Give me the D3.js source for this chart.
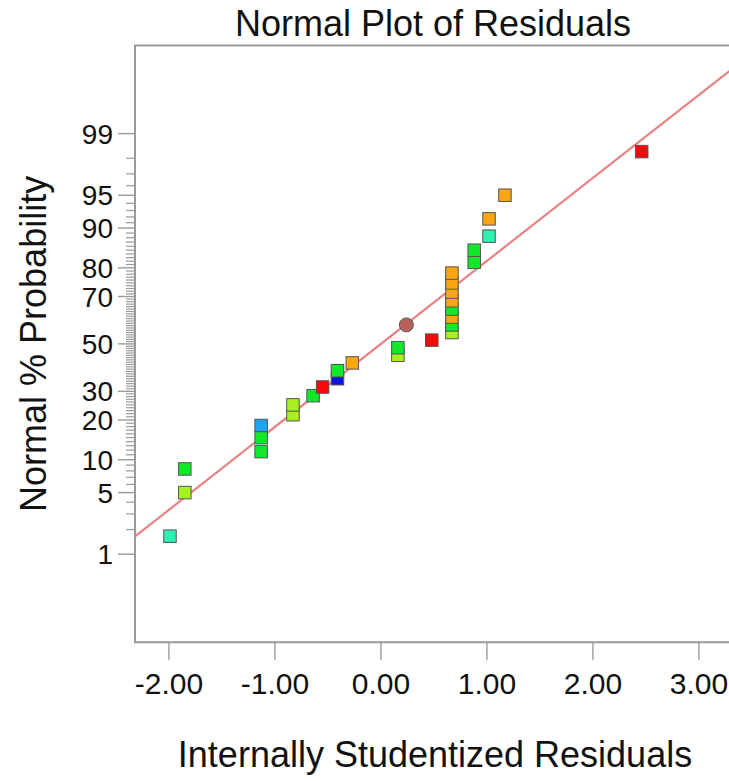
<!DOCTYPE html>
<html>
<head>
<meta charset="utf-8">
<script src="https://cdn.jsdelivr.net/npm/d3@7/dist/d3.min.js"></script>
<style>
  html, body { margin: 0; padding: 0; background: #fff; }
  svg { display: block; font-family: Arial, "Liberation Sans", sans-serif; }
</style>
</head>
<body>
<svg id="chart" width="729" height="781"></svg>
<script>
// Internally studentized residuals, ordered by rank
const residuals = [
  -1.99, -1.85, -1.85, -1.13, -1.13, -1.13, -0.83, -0.83, -0.64, -0.55,
  -0.41, -0.41, -0.27, 0.16, 0.16, 0.48, 0.67, 0.67, 0.67, 0.67,
  0.67, 0.67, 0.67, 0.67, 0.88, 0.88, 1.02, 1.02, 1.17, 2.46
];
// Normal % probability of each ranked residual
const normalPct = [
  1.67, 5.00, 8.33, 11.67, 15.00, 18.33, 21.67, 25.00, 28.33, 31.67,
  35.00, 38.33, 41.67, 45.00, 48.33, 51.67, 55.00, 58.33, 61.67, 65.00,
  68.33, 71.67, 75.00, 78.33, 81.67, 85.00, 88.33, 91.67, 95.00, 98.33
];
// Point colour (by response value)
const pointColors = [
  "#2cf2b0", "#a8f01e", "#12e82a", "#12e82a", "#12e82a", "#1ea2f2", "#a8f01e", "#a8f01e", "#12e82a", "#f50a0a",
  "#0a16e6", "#12e82a", "#faa614", "#a8f01e", "#12e82a", "#f50a0a", "#a8f01e", "#12e82a", "#faa614", "#12e82a",
  "#faa614", "#faa614", "#faa614", "#faa614", "#12e82a", "#12e82a", "#2cf2b0", "#faa614", "#faa614", "#f50a0a"
];
// Highlighted point
const markedResidual = [0.24];
const markedPct = [58.33];

// Reference line: z = slope * residual + intercept
const lineSlope = 0.918;
const lineIntercept = 0;

const xTicks = [-2, -1, 0, 1, 2, 3];
const yMajorPct = [1, 5, 10, 20, 30, 50, 70, 80, 90, 95, 99];
const yMinorPct = d3.range(2, 99).filter(v => !yMajorPct.includes(v));

// Inverse standard normal CDF (Acklam)
function probit(p) {
  const a = [-3.969683028665376e+01, 2.209460984245205e+02, -2.759285104469687e+02,
             1.383577518672690e+02, -3.066479806614716e+01, 2.506628277459239e+00];
  const b = [-5.447609879822406e+01, 1.615858368580409e+02, -1.556989798598866e+02,
             6.680131188771972e+01, -1.328068155288572e+01];
  const c = [-7.784894002430293e-03, -3.223964580411365e-01, -2.400758277161838e+00,
             -2.549671010115138e+00, 4.374664141464968e+00, 2.938163982698783e+00];
  const d = [7.784695709041462e-03, 3.224671290700398e-01, 2.445134137142996e+00,
             3.754408661907416e+00];
  const pl = 0.02425, ph = 1 - pl;
  let q, r;
  if (p < pl) {
    q = Math.sqrt(-2 * Math.log(p));
    return (((((c[0]*q+c[1])*q+c[2])*q+c[3])*q+c[4])*q+c[5]) /
           ((((d[0]*q+d[1])*q+d[2])*q+d[3])*q+1);
  } else if (p <= ph) {
    q = p - 0.5; r = q * q;
    return (((((a[0]*r+a[1])*r+a[2])*r+a[3])*r+a[4])*r+a[5])*q /
           (((((b[0]*r+b[1])*r+b[2])*r+b[3])*r+b[4])*r+1);
  } else {
    q = Math.sqrt(-2 * Math.log(1 - p));
    return -(((((c[0]*q+c[1])*q+c[2])*q+c[3])*q+c[4])*q+c[5]) /
            ((((d[0]*q+d[1])*q+d[2])*q+d[3])*q+1);
  }
}

const svg = d3.select("#chart");
const plotLeft = 135, plotTop = 45.6, plotBottom = 642.2;
const xDomain = [-2.32, 3.6];
const x = d3.scaleLinear().domain(xDomain).range([plotLeft, plotLeft + (xDomain[1] - xDomain[0]) * 106]);
const yz = d3.scaleLinear().domain([-3.3, 3.3]).range([plotBottom, plotTop]);
const yPct = pct => yz(probit(pct / 100));

const axisColor = "#9a9a9a";
const textColor = "#111";

// Title
svg.append("text")
  .attr("x", 433).attr("y", 36)
  .attr("text-anchor", "middle")
  .attr("font-size", 36)
  .attr("fill", textColor)
  .text("Normal Plot of Residuals");

// Plot frame (right side extends past the view)
const plotRight = x(xDomain[1]);
svg.append("path")
  .attr("d", `M${plotRight},${plotTop}H${plotLeft}V${plotBottom}H${plotRight}`)
  .attr("fill", "none")
  .attr("stroke", axisColor)
  .attr("stroke-width", 2);

// Y ticks on probability scale
const yAxisG = svg.append("g");
yAxisG.selectAll("line.minor").data(yMinorPct).join("line")
  .attr("class", "minor")
  .attr("x1", plotLeft - 9).attr("x2", plotLeft)
  .attr("y1", d => yPct(d)).attr("y2", d => yPct(d))
  .attr("stroke", axisColor).attr("stroke-width", 1.2);
yAxisG.selectAll("line.major").data(yMajorPct).join("line")
  .attr("class", "major")
  .attr("x1", plotLeft - 17).attr("x2", plotLeft)
  .attr("y1", d => yPct(d)).attr("y2", d => yPct(d))
  .attr("stroke", axisColor).attr("stroke-width", 1.4);
yAxisG.selectAll("text").data(yMajorPct).join("text")
  .attr("x", plotLeft - 22)
  .attr("y", d => yPct(d))
  .attr("dy", "0.36em")
  .attr("text-anchor", "end")
  .attr("font-size", 28)
  .attr("fill", textColor)
  .text(d => d);

// X ticks
const xAxisG = svg.append("g");
xAxisG.selectAll("line").data(xTicks).join("line")
  .attr("x1", d => x(d)).attr("x2", d => x(d))
  .attr("y1", plotBottom).attr("y2", plotBottom + 18)
  .attr("stroke", axisColor).attr("stroke-width", 1.4);
xAxisG.selectAll("text").data(xTicks).join("text")
  .attr("x", d => x(d))
  .attr("y", 694)
  .attr("text-anchor", "middle")
  .attr("font-size", 30)
  .attr("fill", textColor)
  .text(d => d3.format(".2f")(d).replace("−", "-"));

// Axis titles
svg.append("text")
  .attr("x", 435).attr("y", 767)
  .attr("text-anchor", "middle")
  .attr("font-size", 36)
  .attr("fill", textColor)
  .text("Internally Studentized Residuals");
svg.append("text")
  .attr("transform", `translate(46,${yz(0)}) rotate(-90)`)
  .attr("text-anchor", "middle")
  .attr("font-size", 36)
  .attr("fill", textColor)
  .text("Normal % Probability");

// Clip to plot area
svg.append("clipPath").attr("id", "plotClip")
  .append("rect").attr("x", plotLeft).attr("y", plotTop)
  .attr("width", plotRight - plotLeft).attr("height", plotBottom - plotTop);
const plot = svg.append("g").attr("clip-path", "url(#plotClip)");

// Reference line
plot.append("line")
  .attr("x1", x(xDomain[0])).attr("y1", yz(lineSlope * xDomain[0] + lineIntercept))
  .attr("x2", x(xDomain[1])).attr("y2", yz(lineSlope * xDomain[1] + lineIntercept))
  .attr("stroke", "#e88282")
  .attr("stroke-width", 2.2);

// Residual points
const size = 12.5;
const pts = residuals.map((r, i) => ({ r, p: normalPct[i], c: pointColors[i] }));
plot.selectAll("rect.pt").data(pts).join("rect")
  .attr("class", "pt")
  .attr("x", d => x(d.r) - size / 2)
  .attr("y", d => yPct(d.p) - size / 2)
  .attr("width", size).attr("height", size)
  .attr("fill", d => d.c)
  .attr("stroke", "#555")
  .attr("stroke-width", 1);

plot.selectAll("circle.mark").data(markedResidual.map((r, i) => ({ r, p: markedPct[i] }))).join("circle")
  .attr("class", "mark")
  .attr("cx", d => x(d.r))
  .attr("cy", d => yPct(d.p))
  .attr("r", 7)
  .attr("fill", "#b8605c")
  .attr("stroke", "#555")
  .attr("stroke-width", 1);
</script>
</body>
</html>
